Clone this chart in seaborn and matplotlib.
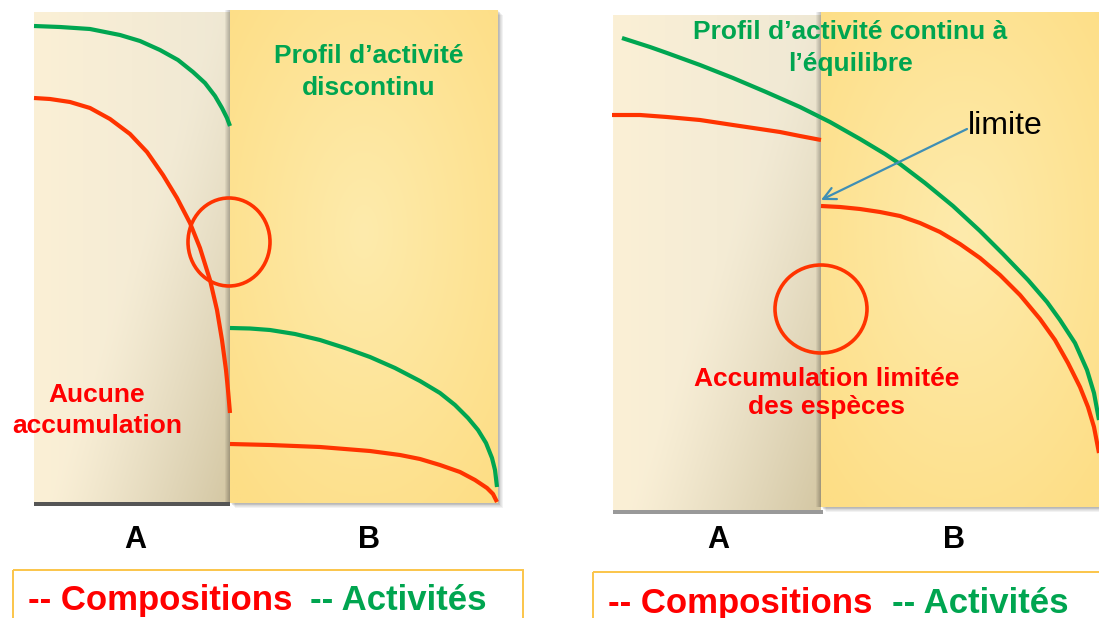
import numpy as np
import matplotlib
matplotlib.use("Agg")
import matplotlib.pyplot as plt
from matplotlib.patches import Rectangle, Ellipse
import seaborn as sns

sns.set_theme(style="white")
plt.rcParams["font.family"] = ["Liberation Sans", "DejaVu Sans"]

# --- courbes (coordonnées, en pixels) ---
# schéma de gauche : profil discontinu
left_green_a_x = [34, 60, 90, 120, 140, 160, 178, 193, 205, 215, 222, 227, 230]
left_green_a_y = [26, 27, 29, 35, 41, 50, 60, 72, 83, 96, 108, 118, 126]
left_red_a_x = [34, 50, 70, 90, 110, 130, 147, 163, 177, 190, 200, 210, 217, 222, 226, 228, 230]
left_red_a_y = [98, 99, 102, 108, 119, 134, 152, 175, 198, 223, 248, 280, 310, 340, 370, 390, 413]
left_green_b_x = [230, 250, 270, 295, 320, 345, 370, 395, 420, 440, 455, 468, 478, 486, 492, 495, 497]
left_green_b_y = [328, 328.5, 330, 334, 340, 348, 357, 368, 381, 393, 405, 418, 430, 443, 458, 470, 487]
left_red_b_x = [230, 270, 320, 370, 400, 420, 440, 460, 475, 487, 493, 497]
left_red_b_y = [444, 445, 447, 451, 455, 459, 465, 472, 480, 488, 494, 502]

# schéma de droite : profil continu à l'équilibre
right_green_x = [622, 650, 667, 700, 733, 766, 800, 830, 860, 885, 900, 925, 953, 980,
                 1003, 1028, 1047, 1060, 1075, 1087, 1094, 1099]
right_green_y = [38, 47, 53, 65, 78, 92, 107, 122, 139, 154, 164, 183, 206, 231,
                 254, 280, 302, 320, 343, 370, 393, 420]
right_red_a_x = [612, 640, 667, 700, 733, 760, 780, 800, 821]
right_red_a_y = [115, 115, 117, 120, 125, 129, 132, 136, 140]
right_red_b_x = [821, 840, 860, 880, 900, 920, 940, 960, 980, 1000, 1020, 1040, 1055,
                 1068, 1080, 1088, 1094, 1099]
right_red_b_y = [206, 207, 209, 212, 216, 223, 232, 244, 258, 275, 295, 319, 340,
                 363, 387, 407, 427, 453]

# cercles (centre x, centre y, largeur, hauteur)
circles = [(229, 242, 82, 88), (821, 309, 92, 88)]

# panneaux (x0, y0, x1, y1)
panels_a = [(34, 12, 230, 505), (613, 15, 821, 512)]
panels_b = [(230, 10, 498, 503), (821, 12, 1105, 507)]

labels_ab = ["A", "B"]
label_x = [[135, 369], [718, 954]]

RED_LINE = "#FF3300"
GREEN_LINE = "#00A651"
RED_TXT = "#FF0000"
GREEN_TXT = "#00A550"

fig = plt.figure(figsize=(10.99, 6.18), dpi=100)
ax = fig.add_axes([0, 0, 1, 1])


def grad_a(n=200):
    u, v = np.meshgrid(np.linspace(0, 1, n), np.linspace(0, 1, n))
    light = np.array([251, 240, 214]) / 255
    mid = np.array([239, 232, 212]) / 255
    dark = np.array([212, 199, 163]) / 255
    base = light * (1 - u[..., None]) + mid * u[..., None]
    t = np.clip((0.8 * u + 0.7 * v - 0.75) / 0.75, 0, 1)[..., None] ** 1.3
    return base * (1 - t) + dark * t


def grad_b(n=200):
    u, v = np.meshgrid(np.linspace(0, 1, n), np.linspace(0, 1, n))
    centre = np.array([254, 235, 172]) / 255
    edge = np.array([253, 222, 134]) / 255
    r = np.clip(np.sqrt((u - 0.5) ** 2 + (v - 0.45) ** 2) / 0.7, 0, 1)[..., None]
    return centre * (1 - r) + edge * r


for (x0, y0, x1, y1) in panels_a:
    ax.imshow(grad_a(), extent=(x0, x1, y1, y0), aspect="auto", zorder=1)

for (x0, y0, x1, y1) in panels_b:
    # ombre portée
    for k in range(1, 7):
        ax.add_patch(Rectangle((x0 + k * 0.8, y0 + k * 0.8), x1 - x0, y1 - y0,
                               color="black", alpha=0.05, lw=0, zorder=1.2))
    for k in range(1, 6):
        ax.add_patch(Rectangle((x0 - k, y0), k, y1 - y0,
                               color="black", alpha=0.05, lw=0, zorder=1.2))
    ax.imshow(grad_b(), extent=(x0, x1, y1, y0), aspect="auto", zorder=1.5)

# barres grises sous les panneaux A
ax.add_patch(Rectangle((34, 502), 196, 4, color="#555555", lw=0, zorder=1.6))
ax.add_patch(Rectangle((613, 510), 210, 4, color="#999999", lw=0, zorder=1.6))

curves = [
    (left_green_a_x, left_green_a_y, GREEN_LINE),
    (left_red_a_x, left_red_a_y, RED_LINE),
    (left_green_b_x, left_green_b_y, GREEN_LINE),
    (left_red_b_x, left_red_b_y, RED_LINE),
    (right_green_x, right_green_y, GREEN_LINE),
    (right_red_a_x, right_red_a_y, RED_LINE),
    (right_red_b_x, right_red_b_y, RED_LINE),
]
for xs, ys, col in curves:
    sns.lineplot(x=xs, y=ys, ax=ax, color=col, lw=3, sort=False,
                 estimator=None, solid_capstyle="butt",
                 solid_joinstyle="round", zorder=3)

for cx, cy, w, h in circles:
    ax.add_patch(Ellipse((cx, cy), w, h, fill=False, ec=RED_LINE, lw=2.6, zorder=3))

# flèche "limite"
ax.annotate("", xy=(821, 200), xytext=(967, 129),
            arrowprops=dict(arrowstyle="->", color="#3F8FB5", lw=1.6,
                            mutation_scale=22, shrinkA=0, shrinkB=0), zorder=4)
ax.text(968, 134, "limite", fontsize=23, color="black", va="baseline", ha="left", zorder=4)

# textes des schémas
bold = dict(fontweight="bold", fontsize=19, ha="center", va="baseline", zorder=4)
ax.text(369, 63, "Profil d’activité", color=GREEN_TXT, **bold)
ax.text(369, 95, "discontinu", color=GREEN_TXT, **bold)
ax.text(97, 402, "Aucune", color=RED_TXT, **bold)
ax.text(97, 433, "accumulation", color=RED_TXT, **bold)
ax.text(850, 39, "Profil d’activité continu à", color=GREEN_TXT, **bold)
ax.text(850, 71, "l’équilibre", color=GREEN_TXT, **bold)
ax.text(827, 386, "Accumulation limitée", color=RED_TXT, **bold)
ax.text(827, 414, "des espèces", color=RED_TXT, **bold)

for xs in label_x:
    for lab, x in zip(labels_ab, xs):
        ax.text(x, 548, lab, fontsize=22, fontweight="bold", color="black",
                ha="center", va="baseline", zorder=4)

# légendes encadrées
ax.add_patch(Rectangle((13, 570), 510, 60, fill=False, ec="#FBC54A", lw=1.4, zorder=4))
ax.add_patch(Rectangle((593, 572), 520, 60, fill=False, ec="#FBC54A", lw=1.4, zorder=4))
leg = dict(fontsize=25, fontweight="bold", va="baseline", ha="left", zorder=5)
ax.text(28, 610, "-- Compositions", color=RED_TXT, **leg)
ax.text(310, 610, "-- Activités", color=GREEN_TXT, **leg)
ax.text(608, 613, "-- Compositions", color=RED_TXT, **leg)
ax.text(892, 613, "-- Activités", color=GREEN_TXT, **leg)

ax.set_xlim(0, 1099)
ax.set_ylim(618, 0)
ax.axis("off")

fig.savefig("out.png", dpi=100)
plt.close(fig)
